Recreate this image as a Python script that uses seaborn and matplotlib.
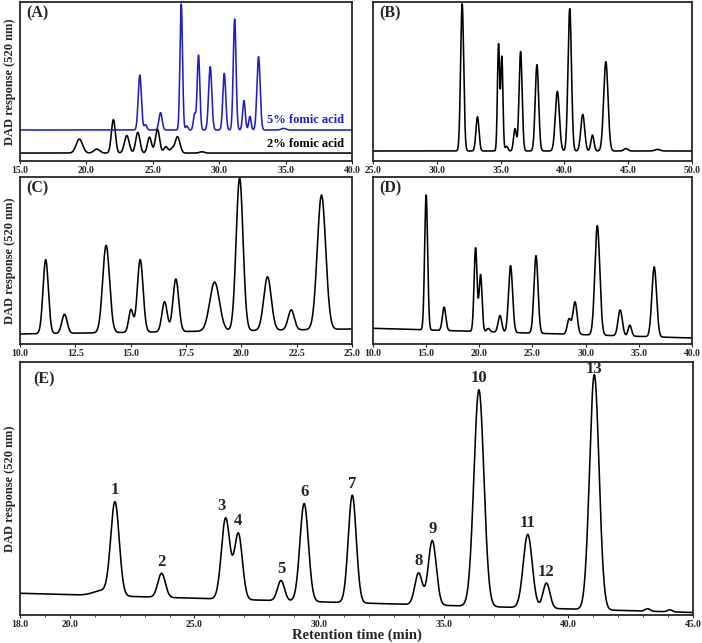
import numpy as np
import pandas as pd
import matplotlib
matplotlib.use("Agg")
import matplotlib.pyplot as plt
import seaborn as sns

# ---- peak tables (retention time, height, sigma) ----
# (A) 2% formic acid
a2_rt = [19.47, 20.78, 22.03, 23.04, 23.87, 24.75, 25.35, 25.98, 26.43, 26.86, 28.70]
a2_h = [8.8, 2.5, 21.0, 11.0, 13.0, 10.0, 15.0, 4.0, 2.5, 10.3, 0.8]
a2_w = [0.24, 0.22, 0.15, 0.18, 0.16, 0.15, 0.16, 0.15, 0.15, 0.18, 0.18]
# (A) 5% formic acid
a5_rt = [24.02, 24.45, 25.58, 27.14, 27.56, 28.14, 28.44, 29.32, 30.38, 31.16, 31.86, 32.31, 32.96, 34.85]
a5_h = [34.6, 3.2, 10.9, 79.2, 2.5, 10.0, 47.0, 39.8, 35.6, 69.8, 18.5, 8.5, 46.1, 1.0]
a5_w = [0.12, 0.10, 0.12, 0.095, 0.09, 0.09, 0.10, 0.12, 0.11, 0.105, 0.10, 0.09, 0.12, 0.18]
# (B)
b_rt = [31.99, 33.19, 34.84, 35.10, 35.47, 36.13, 36.57, 37.85, 39.45, 40.42, 41.44, 42.20, 43.25, 44.82, 47.30]
b_h = [92.6, 21.5, 67.0, 59.0, 3.0, 14.0, 62.5, 54.3, 37.5, 89.5, 23.0, 10.0, 56.2, 1.5, 1.0]
b_w = [0.12, 0.12, 0.085, 0.085, 0.10, 0.11, 0.12, 0.135, 0.16, 0.135, 0.15, 0.12, 0.17, 0.16, 0.2]
# (C)
c_rt = [11.16, 12.01, 13.89, 15.01, 15.43, 16.53, 17.04, 18.79, 19.92, 21.18, 22.25, 23.62]
c_h = [44.3, 11.4, 52.3, 13.5, 43.5, 18.0, 31.5, 29.3, 91.5, 32.0, 12.0, 80.5]
c_w = [0.12, 0.12, 0.155, 0.10, 0.13, 0.12, 0.13, 0.22, 0.155, 0.17, 0.14, 0.19]
# (D)
d_rt = [15.00, 16.69, 19.65, 20.12, 20.84, 21.94, 22.94, 25.33, 28.44, 29.00, 31.10, 33.25, 34.16, 36.45]
d_h = [80.8, 14.0, 50.0, 34.0, 2.0, 10.0, 40.0, 46.5, 9.0, 19.5, 65.5, 15.5, 6.5, 41.9]
d_w = [0.14, 0.16, 0.14, 0.14, 0.15, 0.17, 0.19, 0.19, 0.17, 0.2, 0.23, 0.2, 0.16, 0.22]
# (E) numbered anthocyanin peaks
e_labels = ["1", "2", "3", "4", "5", "6", "7", "8", "9", "10", "11", "12", "13"]
e_rt = [21.81, 23.68, 26.25, 26.76, 28.47, 29.40, 31.33, 33.99, 34.54, 36.41, 38.37, 39.12, 41.04]
e_h = [36.6, 9.5, 32.0, 26.0, 8.0, 38.7, 42.5, 12.5, 25.5, 85.6, 29.0, 10.0, 92.9]
e_w = [0.17, 0.15, 0.17, 0.16, 0.14, 0.17, 0.16, 0.15, 0.16, 0.20, 0.18, 0.14, 0.19]
# small extra features in (E): shoulder before peak 1 and late bumps
e_minor_rt = [21.30, 43.18, 44.07]
e_minor_h = [2.0, 1.0, 0.8]
e_minor_w = [0.35, 0.10, 0.10]

# panel ranges and baselines (start, end)
panels = {
    "A": dict(xlim=(15, 40), ticks=np.arange(15, 40.1, 5)),
    "B": dict(xlim=(25, 50), ticks=np.arange(25, 50.1, 5), base=(6.3, 6.3)),
    "C": dict(xlim=(10, 25), ticks=np.arange(10, 25.1, 2.5), base=(6, 9)),
    "D": dict(xlim=(10, 40), ticks=np.arange(10, 40.1, 5), base=(9.4, 3.6)),
    "E": dict(xlim=(18, 45), ticks=[18, 20, 25, 30, 35, 40, 45], base=(8.6, 1.0)),
}


def trace(xlim, rt, h, w, base=(0, 0)):
    t = np.linspace(xlim[0], xlim[1], 3000)
    y = np.interp(t, xlim, base)
    for r, hh, ww in zip(rt, h, w):
        y = y + hh * np.exp(-0.5 * ((t - r) / ww) ** 2)
    return pd.DataFrame({"time": t, "signal": y})


sns.set_style("ticks")
plt.rcParams["font.family"] = ["Liberation Serif", "DejaVu Serif"]
plt.rcParams["font.weight"] = "bold"
plt.rcParams["axes.linewidth"] = 1.3

fig = plt.figure(figsize=(7.02, 6.43), dpi=100)
boxes = {
    "A": [0.0285, 0.7496, 0.473, 0.2473],
    "B": [0.5313, 0.7496, 0.4544, 0.2473],
    "C": [0.0285, 0.465, 0.473, 0.2597],
    "D": [0.5313, 0.465, 0.4544, 0.2597],
    "E": [0.0285, 0.0435, 0.9587, 0.3935],
}
axes = {k: fig.add_axes(v) for k, v in boxes.items()}
lw = 1.15

# (A) two mobile phases
ax = axes["A"]
sns.lineplot(data=trace(panels["A"]["xlim"], a2_rt, a2_h, a2_w, (5, 5)),
             x="time", y="signal", ax=ax, color="black", lw=lw)
sns.lineplot(data=trace(panels["A"]["xlim"], a5_rt, a5_h, a5_w, (19.5, 19.5)),
             x="time", y="signal", ax=ax, color="#1f1fc8", lw=lw)
ax.text(0.975, 0.26, "5% fomic acid", transform=ax.transAxes, ha="right", va="center",
        color="#1f1fc8", fontsize=9, fontweight="bold")
ax.text(0.975, 0.105, "2% fomic acid", transform=ax.transAxes, ha="right", va="center",
        color="black", fontsize=9, fontweight="bold")

sns.lineplot(data=trace(panels["B"]["xlim"], b_rt, b_h, b_w, panels["B"]["base"]),
             x="time", y="signal", ax=axes["B"], color="black", lw=lw)
sns.lineplot(data=trace(panels["C"]["xlim"], c_rt, c_h, c_w, panels["C"]["base"]),
             x="time", y="signal", ax=axes["C"], color="black", lw=lw)
sns.lineplot(data=trace(panels["D"]["xlim"], d_rt, d_h, d_w, panels["D"]["base"]),
             x="time", y="signal", ax=axes["D"], color="black", lw=lw)

# (E) with peak numbers
ax = axes["E"]
e_df = trace(panels["E"]["xlim"], e_rt + e_minor_rt, e_h + e_minor_h,
             e_w + e_minor_w, panels["E"]["base"])
sns.lineplot(data=e_df, x="time", y="signal", ax=ax, color="black", lw=lw)
for lab, r in zip(e_labels, e_rt):
    top = np.interp(r, e_df["time"], e_df["signal"])
    dx = -3 if lab == "3" else 0
    dy = -1.5 if lab == "13" else 2.5
    ax.annotate(lab, (r, top), xytext=(dx, dy), textcoords="offset points",
                ha="center", va="bottom", fontsize=12, fontweight="bold",
                annotation_clip=False)
ax.set_xlabel("Retention time (min)", fontsize=10.5, fontweight="bold", labelpad=0)
ax.xaxis.set_minor_locator(matplotlib.ticker.MultipleLocator(1))

for key, ax in axes.items():
    ax.set_xlim(*panels[key]["xlim"])
    ax.set_ylim(0, 100)
    ax.set_xticks(panels[key]["ticks"])
    ax.set_xticklabels([f"{v:.1f}" for v in panels[key]["ticks"]])
    ax.set_yticks([])
    ax.tick_params(axis="x", labelsize=7, length=2, width=0.8, pad=1.5, direction="out")
    ax.tick_params(axis="x", which="minor", length=1.5, width=0.6)
    for lab in ax.get_xticklabels():
        lab.set_fontweight("bold")
    for s in ax.spines.values():
        s.set_visible(True)
        s.set_linewidth(1.3)
    if key != "E":
        ax.set_xlabel("")
    ax.set_ylabel("")
    ax.text(0.02, 0.93, f"({key})", transform=ax.transAxes, ha="left", va="center",
            fontsize=11.5, fontweight="bold")

for key in ("A", "C", "E"):
    axes[key].set_ylabel("DAD response (520 nm)", fontsize=9, fontweight="bold", labelpad=3)

fig.savefig("out.png", dpi=100)
